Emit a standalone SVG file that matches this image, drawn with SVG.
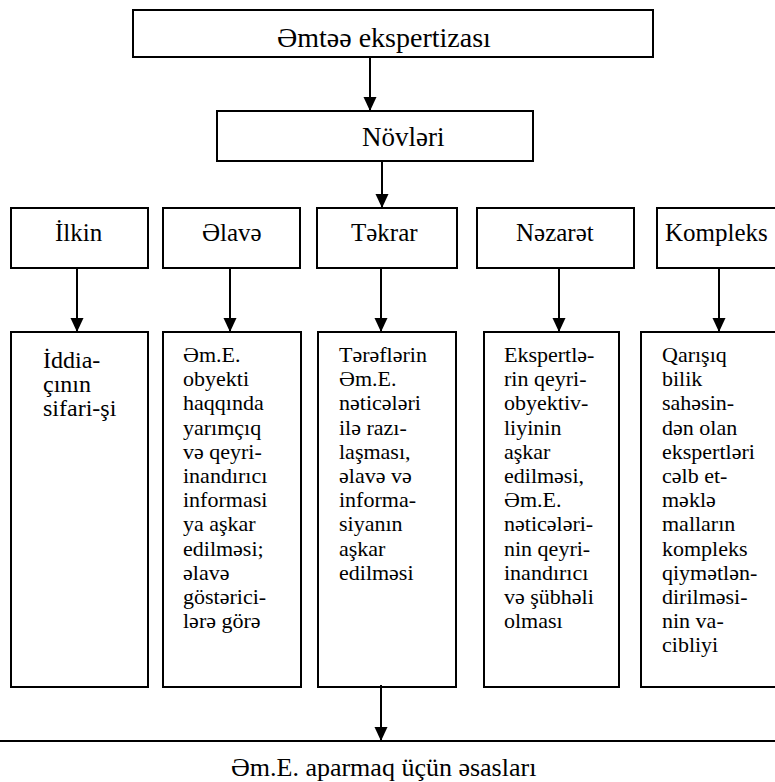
<svg xmlns="http://www.w3.org/2000/svg" width="775" height="782" viewBox="0 0 775 782">
<style>
.box{fill:#fff;stroke:#000;stroke-width:2}
text{font-family:'Liberation Serif','Times New Roman',Times,'DejaVu Serif',serif;fill:#000}
.lbl{font-size:25px}
.big{font-size:28px}
.col{font-size:22px}
.conn line{stroke:#000;stroke-width:2;marker-end:url(#ah)}
</style>
<defs>
<marker id="ah" markerWidth="14" markerHeight="14" refX="14" refY="7" orient="auto" markerUnits="userSpaceOnUse">
<path d="M0,0.5 L14,7 L0,13.5 z" fill="#000"/>
</marker>
</defs>
<rect width="775" height="782" fill="#fff"/>
<g font-family="'Liberation Serif','Times New Roman',Times,'DejaVu Serif',serif">
<g id="n-top"><rect class="box" x="133" y="10" width="520" height="47"/><text class="big" x="277" y="47">Əmtəə ekspertizası</text></g>
<g id="n-novleri"><rect class="box" x="217" y="111" width="316" height="50"/><text font-size="27" x="362" y="146">Növləri</text></g>

<g id="h-ilkin"><rect class="box" x="11" y="208" width="137" height="60"/><text class="lbl" x="55" y="241">İlkin</text></g>
<g id="h-elave"><rect class="box" x="163" y="208" width="137" height="60"/><text class="lbl" x="202" y="241">Əlavə</text></g>
<g id="h-tekrar"><rect class="box" x="317" y="208" width="140" height="60"/><text class="lbl" x="351" y="241">Təkrar</text></g>
<g id="h-nezaret"><rect class="box" x="477" y="208" width="157" height="60"/><text class="lbl" x="516" y="241">Nəzarət</text></g>
<g id="h-kompleks"><rect class="box" x="657" y="208" width="130" height="60"/><text class="lbl" x="665" y="241">Kompleks</text></g>

<g id="c-ilkin"><rect class="box" x="11" y="332" width="137" height="355"/>
<text font-size="24"><tspan x="43" y="368">İddia-</tspan><tspan x="43" y="392">çının</tspan><tspan x="43" y="416">sifari-şi</tspan></text></g>

<g id="c-elave"><rect class="box" x="163" y="332" width="138" height="355"/>
<text class="col"><tspan x="183" y="362">Əm.E.</tspan><tspan x="183" y="386.2">obyekti</tspan><tspan x="183" y="410.4">haqqında</tspan><tspan x="183" y="434.6">yarımçıq</tspan><tspan x="183" y="458.8">və qeyri-</tspan><tspan x="183" y="483">inandırıcı</tspan><tspan x="183" y="507.2">informasi</tspan><tspan x="183" y="531.4">ya aşkar</tspan><tspan x="183" y="555.6">edilməsi;</tspan><tspan x="183" y="579.8">əlavə</tspan><tspan x="183" y="604">göstərici-</tspan><tspan x="183" y="628.2">lərə görə</tspan></text></g>

<g id="c-tekrar"><rect class="box" x="318" y="332" width="138" height="355"/>
<text class="col"><tspan x="339" y="362">Tərəflərin</tspan><tspan x="339" y="386.2">Əm.E.</tspan><tspan x="339" y="410.4">nəticələri</tspan><tspan x="339" y="434.6">ilə razı-</tspan><tspan x="339" y="458.8">laşması,</tspan><tspan x="339" y="483">əlavə və</tspan><tspan x="339" y="507.2">informa-</tspan><tspan x="339" y="531.4">siyanın</tspan><tspan x="339" y="555.6">aşkar</tspan><tspan x="339" y="579.8">edilməsi</tspan></text></g>

<g id="c-nezaret"><rect class="box" x="484" y="332" width="135" height="355"/>
<text class="col"><tspan x="504" y="362">Ekspertlə-</tspan><tspan x="504" y="386.2">rin qeyri-</tspan><tspan x="504" y="410.4">obyektiv-</tspan><tspan x="504" y="434.6">liyinin</tspan><tspan x="504" y="458.8">aşkar</tspan><tspan x="504" y="483">edilməsi,</tspan><tspan x="504" y="507.2">Əm.E.</tspan><tspan x="504" y="531.4">nəticələri-</tspan><tspan x="504" y="555.6">nin qeyri-</tspan><tspan x="504" y="579.8">inandırıcı</tspan><tspan x="504" y="604">və şübhəli</tspan><tspan x="504" y="628.2">olması</tspan></text></g>

<g id="c-kompleks"><rect class="box" x="641" y="332" width="146" height="355"/>
<text class="col"><tspan x="662" y="362">Qarışıq</tspan><tspan x="662" y="386.2">bilik</tspan><tspan x="662" y="410.4">sahəsin-</tspan><tspan x="662" y="434.6">dən olan</tspan><tspan x="662" y="458.8">ekspertləri</tspan><tspan x="662" y="483">cəlb et-</tspan><tspan x="662" y="507.2">məklə</tspan><tspan x="662" y="531.4">malların</tspan><tspan x="662" y="555.6">kompleks</tspan><tspan x="662" y="579.8">qiymətlən-</tspan><tspan x="662" y="604">dirilməsi-</tspan><tspan x="662" y="628.2">nin va-</tspan><tspan x="662" y="652.4">cibliyi</tspan></text></g>

<g id="n-bottom"><rect class="box" x="-5" y="741" width="785" height="60"/><text font-size="26" x="231" y="776">Əm.E. aparmaq üçün əsasları</text></g>
</g>
<g id="connectors" class="conn">
<line x1="370" y1="57" x2="370" y2="111"/>
<line x1="382" y1="161" x2="382" y2="208"/>
<line x1="77" y1="268" x2="77" y2="332"/>
<line x1="230" y1="268" x2="230" y2="332"/>
<line x1="381" y1="268" x2="381" y2="332"/>
<line x1="559" y1="268" x2="559" y2="332"/>
<line x1="719" y1="268" x2="719" y2="332"/>
<line x1="381" y1="685" x2="381" y2="741"/>
</g>
</svg>
